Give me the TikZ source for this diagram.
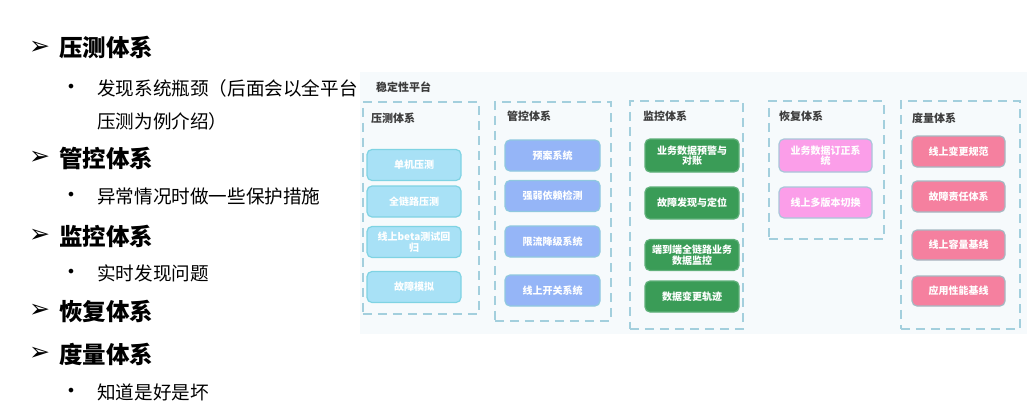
\documentclass[tikz,border=0pt]{standalone}
\usepackage{fontspec}
\setmainfont{Noto Sans CJK SC}
\newfontfamily\dejavu{DejaVu Sans}
\definecolor{platbg}{HTML}{F6FAFC}
\definecolor{dashc}{HTML}{A3CFDD}
\definecolor{cA}{HTML}{A8E1F6}
\definecolor{cAd}{HTML}{7FD3E3}
\definecolor{cB}{HTML}{95B5F7}
\definecolor{cBd}{HTML}{8FC8DF}
\definecolor{cC}{HTML}{3A9C57}
\definecolor{cCd}{HTML}{5FB07A}
\definecolor{cD}{HTML}{FB9EE9}
\definecolor{cDd}{HTML}{A9C6DA}
\definecolor{cE}{HTML}{F5809F}
\definecolor{cEd}{HTML}{A6B8C2}
\definecolor{txt}{HTML}{1A1A1A}
\begin{document}
\begin{tikzpicture}[x=1pt,y=-1pt,
  grp/.style={draw=dashc, line width=1.7pt, dash pattern=on 9pt off 6pt, minimum width=#1, inner sep=0pt, anchor=north west},
  gtitle/.style={anchor=west, font=\bfseries\fontsize{11}{13}\selectfont, text=txt!85, inner sep=0pt},
  ibox/.style={rounded corners=5pt, line width=1.2pt, text=white, align=center, inner sep=1pt,
     font=\bfseries\fontsize{10}{10.5}\selectfont, minimum height=31pt, text width=88pt},
  bA/.style={ibox, fill=cA, draw=cAd, minimum width=94pt},
  bB/.style={ibox, fill=cB, draw=cBd, minimum width=95pt},
  bC/.style={ibox, fill=cC, draw=cCd, minimum width=94pt},
  bD/.style={ibox, fill=cD, draw=cDd, minimum width=93pt},
  bE/.style={ibox, fill=cE, draw=cEd, minimum width=93pt},
  head/.style={anchor=west, inner sep=0pt, font=\bfseries\fontsize{23.5}{25}\selectfont, text=black},
  arrowmk/.style={anchor=west, inner sep=0pt, font=\dejavu\bfseries\fontsize{25}{27}\selectfont, text=black},
  bul/.style={anchor=center, inner sep=0pt, font=\dejavu\fontsize{16}{18}\selectfont},
  item/.style={anchor=west, inner sep=0pt, font=\fontsize{18.6}{20}\selectfont, text=black}
]
\useasboundingbox (0,0) rectangle (1027,416);
\fill[white] (0,0) rectangle (1027,416);
\fill[platbg] (360,72) rectangle (1027,334);

% left text
\node[arrowmk] (m1) at (29,48) {➢};
\node[head] (h1) at (59,48) {压测体系};
\node[bul] (d1) at (71,88) {•};
\node[item] (t1) at (97,88) {发现系统瓶颈（后面会以全平台};
\node[item] (t1b) at (97,121) {压测为例介绍）};
\node[arrowmk] (m2) at (29,158) {➢};
\node[head] (h2) at (59,158) {管控体系};
\node[bul] (d2) at (71,196) {•};
\node[item] (t2) at (97,196) {异常情况时做一些保护措施};
\node[arrowmk] (m3) at (29,236) {➢};
\node[head] (h3) at (59,236) {监控体系};
\node[bul] (d3) at (71,273) {•};
\node[item] (t3) at (97,273) {实时发现问题};
\node[arrowmk] (m4) at (29,311) {➢};
\node[head] (h4) at (59,311) {恢复体系};
\node[arrowmk] (m5) at (29,354) {➢};
\node[head] (h5) at (59,354) {度量体系};
\node[bul] (d5) at (71,392) {•};
\node[item] (t5) at (97,392) {知道是好是坏};

% platform
\node[gtitle] (pt) at (376,87) {稳定性平台};

% group 1
\node[grp=116pt, minimum height=212pt] (g1) at (362,101) {};
\node[gtitle] (g1t) at (371,118) {压测体系};
\node[bA] (a1) at (414,165) {单机压测};
\node[bA] (a2) at (414,201.5) {全链路压测};
\node[bA] (a3) at (414,242) {线上beta测试回\\归};
\node[bA] (a4) at (414,287) {故障模拟};

% group 2
\node[grp=116pt, minimum height=219pt] (g2) at (494,101) {};
\node[gtitle] (g2t) at (507,116) {管控体系};
\node[bB] (b1) at (552.5,155.5) {预案系统};
\node[bB] (b2) at (552.5,196) {强弱依赖检测};
\node[bB] (b3) at (552.5,241.5) {限流降级系统};
\node[bB] (b4) at (552.5,290.5) {线上开关系统};

% group 3
\node[grp=113pt, minimum height=228pt] (g3) at (629,100) {};
\node[gtitle] (g3t) at (643,116) {监控体系};
\node[bC, minimum height=33pt] (c1) at (692,155.5) {业务数据预警与\\对账};
\node[bC, minimum height=32pt] (c2) at (692,203) {故障发现与定位};
\node[bC] (c3) at (692,255) {端到端全链路业务\\数据监控};
\node[bC] (c4) at (692,296.5) {数据变更轨迹};

% group 4
\node[grp=115pt, minimum height=138pt] (g4) at (768,100) {};
\node[gtitle] (g4t) at (779,116) {恢复体系};
\node[bD, minimum height=33pt] (e1) at (825.5,155.5) {业务数据订正系\\统};
\node[bD] (e2) at (825.5,202.5) {线上多版本切换};

% group 5
\node[grp=119pt, minimum height=228pt] (g5) at (900,100) {};
\node[gtitle] (g5t) at (912,118) {度量体系};
\node[bE] (f1) at (958.5,151.5) {线上变更规范};
\node[bE] (f2) at (958.5,196.5) {故障责任体系};
\node[bE, minimum height=30pt] (f3) at (958.5,245) {线上容量基线};
\node[bE, minimum height=30pt] (f4) at (958.5,291) {应用性能基线};
\end{tikzpicture}
\end{document}
